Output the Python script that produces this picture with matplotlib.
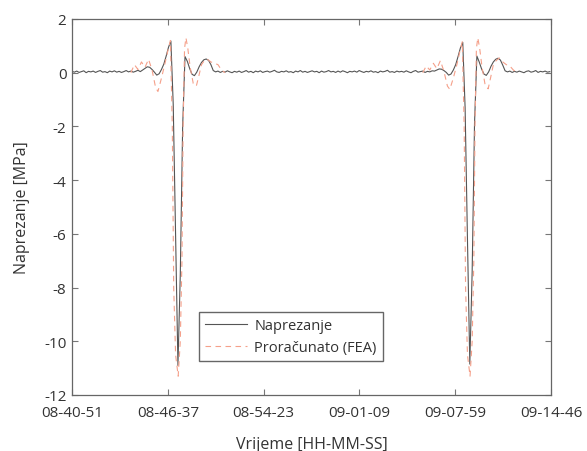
import numpy as np
import matplotlib.pyplot as plt

# measured stress, one sample every 10 s (rows of 100 s)
meas_dt = 10
meas = [
    0.05, 0.02, 0.06, 0.01, 0.04, 0.07, 0.00, 0.05, 0.03, 0.06,
    0.01, 0.05, 0.08, 0.02, 0.04, 0.00, 0.06, 0.03, 0.07, 0.02,
    0.05, 0.01, 0.04, 0.08, 0.03, 0.06, 0.02, 0.05, 0.09, 0.04,
    0.10, 0.16, 0.22, 0.20, 0.12, 0.02, -0.09, -0.04, 0.12, 0.32,
    0.62, 0.95, 1.18, -1.20, -6.00, -10.90, -7.50, -2.00, 0.60, 0.42,
    0.15, -0.06, -0.11, 0.02, 0.22, 0.38, 0.48, 0.51, 0.46, 0.30,
    0.08, 0.03, 0.06, 0.01, 0.05, 0.02, 0.07, 0.03, 0.00, 0.05,
    0.02, 0.06, 0.01, 0.04, 0.08, 0.02, 0.05, 0.00, 0.06, 0.03,
    0.07, 0.01, 0.04, 0.06, 0.02, 0.05, 0.09, 0.03, 0.01, 0.05,
    0.03, 0.07, 0.02, 0.04, 0.00, 0.06, 0.03, 0.08, 0.02, 0.05,
    0.01, 0.04, 0.07, 0.03, 0.05, 0.00, 0.06, 0.02, 0.04, 0.08,
    0.03, 0.05, 0.01, 0.06, 0.02, 0.07, 0.04, 0.00, 0.05, 0.03,
    0.06, 0.02, 0.08, 0.04, 0.01, 0.05, 0.03, 0.07, 0.02, 0.04,
    0.00, 0.06, 0.03, 0.05, 0.09, 0.02, 0.04, 0.01, 0.06, 0.03,
    0.05, 0.02, 0.07, 0.03, 0.00, 0.05, 0.08, 0.02, 0.04, 0.06,
    0.01, 0.05, 0.03, 0.07, 0.06, 0.10, 0.14, 0.13, 0.08, 0.01,
    -0.09, -0.05, 0.10, 0.30, 0.60, 0.92, 1.13, -1.30, -6.20, -10.85,
    -7.40, -1.90, 0.62, 0.40, 0.14, -0.05, -0.10, 0.03, 0.24, 0.40,
    0.50, 0.54, 0.47, 0.28, 0.07, 0.03, 0.06, 0.01, 0.05, 0.02,
    0.06, 0.03, 0.00, 0.05, 0.07, 0.02, 0.04, 0.08, 0.01, 0.05,
    0.03, 0.06, 0.02, 0.04,
]

# FEA result around the two passes (s, MPa)
fea1_t = [250, 265, 280, 295, 310, 325, 340, 355, 365, 380, 395, 408, 418, 426, 432, 440,
          451, 460, 467, 472, 478, 484, 492, 502, 515, 528, 538, 550, 562, 575, 590, 605,
          620, 635, 650]
fea1_v = [0.0, 0.3, 0.12, 0.4, 0.2, 0.5, 0.1, -0.55, -0.7, -0.2, 0.35, 0.85, 1.2, -2.0, -8.0,
          -10.5, -11.3, -10.0, -7.0, -2.0, 0.9, 1.3, 0.9, 0.2, -0.4, -0.5, -0.15, 0.3, 0.45,
          0.5, 0.4, 0.35, 0.3, 0.1, 0.0]
fea2_t = [1490, 1505, 1520, 1535, 1550, 1565, 1580, 1595, 1605, 1620, 1635, 1648, 1658, 1666,
          1672, 1680, 1691, 1700, 1707, 1712, 1718, 1724, 1732, 1742, 1755, 1768, 1778, 1790,
          1802, 1815, 1830, 1845, 1860, 1875, 1890]
fea2_v = [0.0, 0.25, 0.1, 0.35, 0.15, 0.45, 0.05, -0.5, -0.62, -0.2, 0.3, 0.8, 1.15, -2.0,
          -8.0, -10.5, -11.3, -10.0, -7.0, -2.0, 0.9, 1.3, 0.9, 0.2, -0.45, -0.6, -0.2, 0.3,
          0.45, 0.55, 0.4, 0.3, 0.25, 0.1, 0.0]

t_end = 2035
xtick_labels = ['08-40-51', '08-46-37', '08-54-23', '09-01-09', '09-07-59', '09-14-46']
yticks = [2, 0, -2, -4, -6, -8, -10, -12]

plt.rcParams['font.family'] = ['Open Sans', 'DejaVu Sans']
plt.rcParams['axes.unicode_minus'] = False

fig = plt.figure(figsize=(5.87, 4.52), dpi=100)
ax = fig.add_axes([0.1227, 0.1239, 0.816, 0.8319])

t_meas = np.arange(len(meas)) * meas_dt
fea_t = fea1_t + [np.nan] + fea2_t
fea_v = fea1_v + [np.nan] + fea2_v

ax.plot(t_meas, meas, color='#555555', lw=0.8, label='Naprezanje')
ax.plot(fea_t, fea_v, color='#f5a08a', lw=0.8, dashes=(5, 4), label='Proračunato (FEA)')

ax.set_xlim(0, t_end)
ax.set_ylim(-12, 2)
ax.set_xticks(np.linspace(0, t_end, len(xtick_labels)))
ax.set_xticklabels(xtick_labels)
ax.set_yticks(yticks)

ax.tick_params(direction='in', top=True, right=True, length=4, width=0.8,
               color='#777777', labelcolor='#333333', labelsize=11)
ax.tick_params(axis='x', pad=7)
ax.tick_params(axis='y', pad=4)
for s in ax.spines.values():
    s.set_color('#666666')
    s.set_linewidth(0.9)

ax.set_xlabel('Vrijeme [HH-MM-SS]', fontsize=11.5, color='#333333', labelpad=12)
ax.set_ylabel('Naprezanje [MPa]', fontsize=11.5, color='#333333', labelpad=10)

leg = ax.legend(loc='lower left', bbox_to_anchor=(0.265, 0.09), fancybox=False,
                framealpha=1, edgecolor='#666666', fontsize=10.5, borderaxespad=0,
                handlelength=2.9, handletextpad=0.5, borderpad=0.4)
leg.get_frame().set_linewidth(1.0)
for txt in leg.get_texts():
    txt.set_color('#333333')

fig.savefig('out.png', dpi=100)
